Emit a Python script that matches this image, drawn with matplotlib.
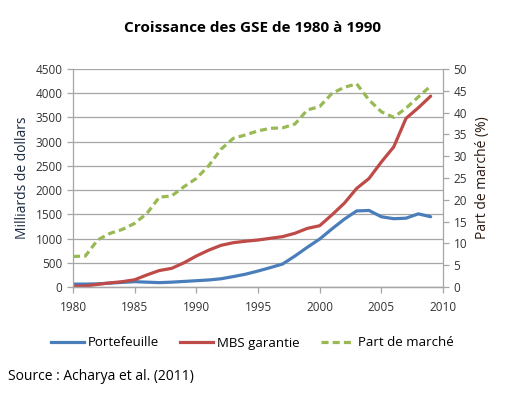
import matplotlib
matplotlib.use("Agg")
import matplotlib.pyplot as plt
from matplotlib.lines import Line2D

years = list(range(1980, 2010))
portefeuille = [60, 60, 65, 80, 95, 110, 100, 90, 100, 115, 130, 145, 170, 215, 265, 330, 400, 475, 640, 820, 990, 1200, 1400, 1570, 1580, 1450, 1410, 1420, 1510, 1450]
mbs_garantie = [15, 20, 55, 85, 110, 150, 250, 340, 385, 500, 640, 760, 860, 915, 945, 970, 1005, 1040, 1110, 1210, 1265, 1490, 1730, 2035, 2240, 2580, 2890, 3480, 3700, 3940]
part_marche = [7.0, 7.1, 10.8, 12.3, 13.2, 14.6, 16.9, 20.6, 20.9, 23.0, 24.9, 27.8, 31.6, 34.1, 34.9, 35.8, 36.4, 36.5, 37.4, 40.6, 41.4, 44.4, 45.8, 46.6, 42.9, 40.2, 38.9, 41.0, 43.6, 46.1]
x_ticks = [1980, 1985, 1990, 1995, 2000, 2005, 2010]
left_ticks = list(range(0, 4501, 500))
right_ticks = list(range(0, 51, 5))

plt.rcParams['font.family'] = ['Open Sans', 'DejaVu Sans']

W, H = 505, 393
fig = plt.figure(figsize=(W / 100, H / 100), dpi=100)
ax = fig.add_axes([73 / W, 1 - 287 / H, (443 - 73) / W, (287 - 69) / H])
ax2 = ax.twinx()

blue = '#4A7EBB'
red = '#BE4B48'
green = '#98B954'
grid_c = '#A6A6A6'
txt = '#333333'

ax.plot(years, portefeuille, color=blue, lw=2.3, solid_capstyle='round')
ax.plot(years, mbs_garantie, color=red, lw=2.3, solid_capstyle='round')
ax2.plot(years, part_marche, color=green, lw=2.3, ls=(0, (2.2, 1.3)))

ax.set_xlim(1980, 2010)
ax.set_ylim(0, 4500)
ax2.set_ylim(0, 50)
ax.set_xticks(x_ticks)
ax.set_yticks(left_ticks)
ax2.set_yticks(right_ticks)
ax.grid(axis='y', color=grid_c, lw=0.9)
ax.set_axisbelow(True)

for a in (ax, ax2):
    for s in a.spines.values():
        s.set_color(grid_c)
        s.set_linewidth(0.9)
    a.spines['top'].set_visible(False)
    a.tick_params(colors=grid_c, labelcolor=txt, labelsize=8.5, length=4, width=0.9, direction='out')
ax.spines['right'].set_visible(False)
ax2.spines['left'].set_visible(False)
ax.tick_params(axis='x', pad=6)

ax.set_ylabel('Milliards de dollars', fontsize=10, color='#1a2a40', labelpad=4)
ax2.set_ylabel('Part de marché (%)', fontsize=10, color='#2a1a10', labelpad=6)

fig.text(0.5, 1 - 28 / H, 'Croissance des GSE de 1980 à 1990', ha='center', va='center', fontsize=11, fontweight='bold', color='black')

handles = [Line2D([], [], color=blue, lw=2.3),
           Line2D([], [], color=red, lw=2.3),
           Line2D([], [], color=green, lw=2.3, ls=(0, (2.2, 1.3)))]
fig.legend(handles, ['Portefeuille', 'MBS garantie', 'Part de marché'], loc='center', bbox_to_anchor=(0.5, 1 - 343 / H),
           ncol=3, frameon=False, fontsize=9.5, handlelength=2.5, handletextpad=0.3, columnspacing=1.6)

fig.text(8 / W, 1 - 376 / H, 'Source : Acharya et al. (2011)', ha='left', va='center', fontsize=10, color='black')

fig.savefig('out.png', dpi=100)
